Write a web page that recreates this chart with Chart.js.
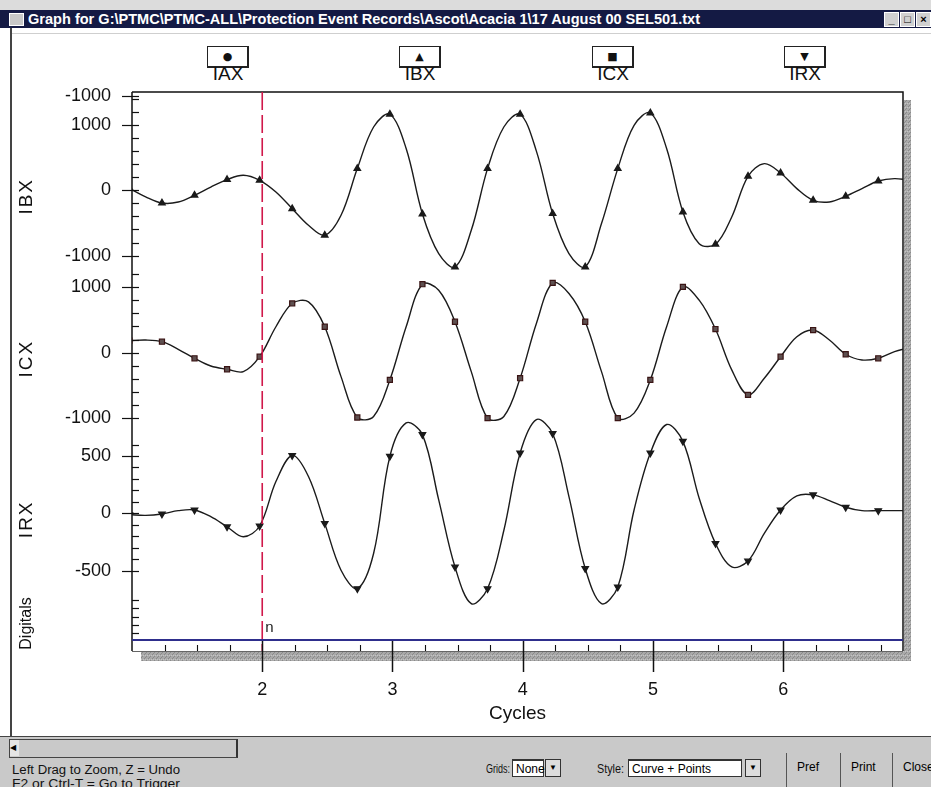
<!DOCTYPE html>
<html>
<head>
<meta charset="utf-8">
<script src="https://cdn.jsdelivr.net/npm/chart.js@4.4.1/dist/chart.umd.min.js"></script>
<style>
  html,body{margin:0;padding:0;}
  body{width:931px;height:787px;position:relative;overflow:hidden;background:#fff;font-family:"Liberation Sans",Arial,sans-serif;}
  #topstrip{position:absolute;left:0;top:0;width:931px;height:10px;background:#dcdcdc;}
  #titlebar{position:absolute;left:0;top:10px;width:931px;height:18px;background:#141a44;color:#fff;}
  #titlebar .txt{position:absolute;left:28px;top:1px;font:bold 14px "Liberation Sans",Arial,sans-serif;white-space:nowrap;transform-origin:0 0;}
  #titlebar .ico{position:absolute;left:9px;top:3px;width:13px;height:11px;background:#c8c8c8;border:1px solid #fff;}
  .wbtn{position:absolute;top:2px;width:13px;height:13px;background:#d0d0d0;border:1px solid #fff;color:#000;font:bold 11px Arial;text-align:center;line-height:12px;}
  #sepline{position:absolute;left:12px;top:33px;width:919px;height:1px;background:#cfcfcf;}
  #leftborder{position:absolute;left:10px;top:28px;width:2px;height:709px;background:#444;}
  .lbox{position:absolute;top:46px;width:39px;height:19px;border:1px solid #222;border-right:2px solid #222;border-bottom:2px solid #222;background:#fff;text-align:center;font:11px "DejaVu Sans",sans-serif;line-height:19px;color:#111;}
  .llab{position:absolute;top:63px;width:60px;text-align:center;font:19px "Liberation Sans",Arial,sans-serif;color:#111;}
  #wrap{position:absolute;left:12px;top:30px;width:919px;height:705px;}
  #bottom{position:absolute;left:0;top:736px;width:931px;height:51px;background:#c9c9c9;border-top:1px solid #444;}
  #bottom .t{position:absolute;font:12px "Liberation Sans",Arial,sans-serif;color:#111;white-space:nowrap;transform-origin:0 0;}
  .sel{position:absolute;top:22px;height:18px;background:#fff;border:1px solid #333;border-top:2px solid #333;font:12px "Liberation Sans",Arial;line-height:16px;padding-left:3px;box-sizing:border-box;white-space:nowrap;}
  .arr{position:absolute;top:22px;width:16px;height:18px;background:#ddd;border:1px solid #333;box-sizing:border-box;font:8px Arial;text-align:center;line-height:16px;}
  .btn{position:absolute;top:16px;height:35px;border-left:1px solid #555;font:12px "Liberation Sans",Arial;line-height:28px;padding-left:10px;box-sizing:border-box;}
</style>
</head>
<body>
<div id="topstrip"></div>
<div id="titlebar">
  <div class="ico"></div>
  <div class="txt" id="ttl">Graph for G:\PTMC\PTMC-ALL\Protection Event Records\Ascot\Acacia 1\17 August 00 SEL501.txt</div>
  <div class="wbtn" style="left:884px;">_</div>
  <div class="wbtn" style="left:900px;">□</div>
  <div class="wbtn" style="left:916px;">×</div>
</div>
<div id="sepline"></div>
<div id="leftborder"></div>
<div id="legend"></div>
<div id="wrap"><canvas id="c" width="919" height="705"></canvas></div>
<div id="bottom">
  <div style="position:absolute;left:9px;top:2px;width:229px;height:19px;border:1px solid #444;border-right:2px solid #333;box-sizing:border-box;"></div>
  <div style="position:absolute;left:10px;top:3px;width:9px;height:16px;background:#e4e4e4;font:8px Arial;line-height:16px;">&#9664;</div>
  <div class="t" id="t1" style="left:12px;top:26px;">Left Drag to Zoom, Z = Undo</div>
  <div class="t" id="t2" style="left:12px;top:40px;">F2 or Ctrl-T = Go to Trigger</div>
  <div class="t" id="gl" style="left:486px;top:25px;">Grids:</div>
  <div class="sel" style="left:512px;width:32px;">None</div>
  <div class="arr" style="left:545px;">&#9660;</div>
  <div class="t" id="sl" style="left:597px;top:25px;">Style:</div>
  <div class="sel" style="left:628px;width:114px;">Curve + Points</div>
  <div class="arr" style="left:745px;">&#9660;</div>
  <div class="btn" style="left:786px;width:42px;">Pref</div>
  <div class="btn" style="left:840px;width:46px;">Print</div>
  <div class="btn" style="left:892px;width:40px;">Close</div>
</div>
<script>
// ---------------- DATA ----------------
const channels = ["IAX", "IBX", "ICX", "IRX"];
const channelSymbols = ["\u25CF", "\u25B2", "\u25A0", "\u25BC"];
const cycles = [0.98, 1.105, 1.23, 1.355, 1.48, 1.605, 1.73, 1.855, 1.98, 2.105, 2.23, 2.355, 2.48, 2.605, 2.73, 2.855,
  2.98, 3.105, 3.23, 3.355, 3.48, 3.605, 3.73, 3.855, 3.98, 4.105, 4.23, 4.355, 4.48, 4.605, 4.73, 4.855,
  4.98, 5.105, 5.23, 5.355, 5.48, 5.605, 5.73, 5.855, 5.98, 6.105, 6.23, 6.355, 6.48, 6.605, 6.73, 6.855, 6.98];
const ibx = [30, -100, -195, -180, -77, 50, 164, 230, 153, -26, -281, -536, -689, -383, 332, 969,
  1164, 640, -363, -970, -1174, -613, 332, 969, 1164, 600, -357, -970, -1174, -510, 332, 995,
  1184, 640, -332, -817, -827, -408, 214, 408, 265, 26, -153, -179, -92, 26, 142, 179, 153];
const icx = [182, 192, 167, 52, -85, -202, -252, -288, -61, 394, 748, 773, 394, -364, -985, -970,
  -414, 394, 1041, 950, 470, -288, -994, -970, -388, 445, 1061, 900, 470, -288, -994, -918,
  -414, 394, 1000, 798, 359, -262, -641, -388, -61, 242, 344, 192, -24, -111, -85, 15, 82];
const irx = [-12, -18, -6, 23, 29, -30, -118, -205, -111, 277, 505, 321, -88, -497, -658, -351,
  497, 789, 687, 117, -468, -789, -658, -150, 526, 818, 696, 146, -482, -789, -644, 29,
  526, 775, 628, 132, -263, -468, -416, -175, 29, 152, 161, 111, 53, 23, 23, 23, 23];
const digitalCycles = [1.0, 6.92];
const digitalLevel = [0, 0];
const xTickLabels = [2, 3, 4, 5, 6];
const iaxTicks = [-1000];
const ibxTicks = [-1000, 0, 1000];
const icxTicks = [-1000, 0, 1000];
const irxTicks = [-500, 0, 500];
const triggerCycle = 2;
const triggerLabel = "n";

// ---------------- TEXT FITTING ----------------
function fitWidth(id, w) {
  const el = document.getElementById(id);
  const cw = el.getBoundingClientRect().width;
  if (cw > 0) el.style.transform = 'scaleX(' + (w / cw) + ')';
}
fitWidth('ttl', 672);
fitWidth('t1', 168);
fitWidth('t2', 168);
fitWidth('gl', 24);
fitWidth('sl', 27);

// ---------------- LEGEND (HTML) ----------------
const legendLeft = [207, 399, 592, 784];
const lg = document.getElementById('legend');
channels.forEach((name, i) => {
  const b = document.createElement('div'); b.className = 'lbox';
  b.style.left = legendLeft[i] + 'px'; b.textContent = channelSymbols[i]; lg.appendChild(b);
  const l = document.createElement('div'); l.className = 'llab';
  l.style.left = (legendLeft[i] - 9) + 'px'; l.textContent = name; lg.appendChild(l);
});

// ---------------- CHART ----------------
const pts = (xs, ys) => xs.map((x, i) => ({x, y: ys[i]}));
const FONT = '"Liberation Sans", Arial, sans-serif';

function fixTicks(values) {
  return function (scale) { scale.ticks = values.map(v => ({value: v})); };
}
function yAxis(min, max, ticks, weight, h) {
  return {
    type: 'linear', position: 'left', stack: 'v', stackWeight: h, weight: weight,
    min: min, max: max, bounds: 'data',
    grid: {display: false, drawTicks: false}, border: {display: false},
    afterBuildTicks: fixTicks(ticks),
    afterFit: s => { s.width = 120; },
    ticks: {autoSkip: false, padding: 21, color: '#111', font: {family: FONT, size: 18},
      callback: v => String(v)}
  };
}

const lineStyle = {borderColor: '#1b1b1b', borderWidth: 1.4, tension: 0.35, fill: false,
  clip: {left: 0, right: 0, top: 80, bottom: 80},
  pointRadius: c => (c.dataIndex % 2 === 0 ? 3.6 : 0), pointHoverRadius: 0};

const minorSteps = {yB: 200, yC: 200, yR: 100};

let shadowPattern = null;
function getPattern(ctx) {
  if (shadowPattern) return shadowPattern;
  const p = document.createElement('canvas'); p.width = 4; p.height = 4;
  const pc = p.getContext('2d');
  pc.fillStyle = '#a9a9a9'; pc.fillRect(0, 0, 4, 4);
  pc.fillStyle = '#8a8a8a'; pc.fillRect(0, 0, 1, 1); pc.fillRect(2, 2, 1, 1); pc.fillRect(1, 3, 1, 1);
  pc.fillStyle = '#c4c4c4'; pc.fillRect(3, 1, 1, 1); pc.fillRect(1, 1, 1, 1);
  shadowPattern = ctx.createPattern(p, 'repeat');
  return shadowPattern;
}

const decor = {
  id: 'decor',
  beforeDatasetsDraw(chart) {
    const {ctx, chartArea: a} = chart;
    ctx.save();
    ctx.fillStyle = getPattern(ctx);
    ctx.fillRect(a.right + 1, a.top + 8, 7, a.bottom - a.top + 2);
    ctx.fillRect(a.left + 9, a.bottom, a.right - a.left - 1, 10);
    ctx.strokeStyle = '#111'; ctx.lineWidth = 1.5;
    ctx.beginPath();
    ctx.moveTo(a.left, a.top); ctx.lineTo(a.right, a.top); ctx.lineTo(a.right, a.bottom);
    ctx.moveTo(a.left, a.top); ctx.lineTo(a.left, a.bottom);
    ctx.stroke();
    ctx.strokeStyle = '#666'; ctx.lineWidth = 1;
    ctx.beginPath(); ctx.moveTo(a.left, a.bottom + 0.5); ctx.lineTo(a.right, a.bottom + 0.5); ctx.stroke();
    ctx.restore();
  },
  afterDatasetsDraw(chart) {
    const {ctx, chartArea: a, scales} = chart;
    ctx.save();
    // trigger line
    const tx = scales.x.getPixelForValue(triggerCycle);
    ctx.strokeStyle = '#d0184a'; ctx.lineWidth = 1.6; ctx.setLineDash([18, 5]);
    ctx.beginPath(); ctx.moveTo(tx, a.top); ctx.lineTo(tx, a.bottom); ctx.stroke();
    ctx.setLineDash([]);
    ctx.fillStyle = '#222'; ctx.font = '15px ' + FONT; ctx.textAlign = 'left'; ctx.textBaseline = 'alphabetic';
    ctx.fillText(triggerLabel, tx + 3, a.bottom - 19);
    // y ticks
    ctx.strokeStyle = '#111'; ctx.lineWidth = 1.2;
    ['yA', 'yB', 'yC', 'yR'].forEach(id => {
      const s = scales[id];
      s.ticks.forEach(t => {
        const y = Math.round(s.getPixelForValue(t.value)) + 0.5;
        ctx.beginPath(); ctx.moveTo(a.left - 10, y); ctx.lineTo(a.left + 7, y); ctx.stroke();
      });
      const st = minorSteps[id];
      if (st) {
        const lo = id === 'yR' ? -500 : Math.ceil(s.min / st) * st;
        const hi = id === 'yR' ? 600 : s.max;
        for (let v = lo; v <= hi; v += st) {
          if (s.ticks.some(t => t.value === v)) continue;
          const y = Math.round(s.getPixelForValue(v)) + 0.5;
          ctx.beginPath(); ctx.moveTo(a.left, y); ctx.lineTo(a.left + 7, y); ctx.stroke();
        }
      }
    });
    const d = scales.yD;
    for (let v = 0.15; v <= 0.95; v += 0.19) {
      const y = Math.round(d.getPixelForValue(v)) + 0.5;
      ctx.beginPath(); ctx.moveTo(a.left, y); ctx.lineTo(a.left + 7, y); ctx.stroke();
    }
    // x ticks
    const xs = scales.x;
    for (let c = 1.25; c < xs.max; c += 0.25) {
      const x = Math.round(xs.getPixelForValue(c)) + 0.5;
      const major = Math.abs(c - Math.round(c)) < 1e-6;
      ctx.lineWidth = major ? 1.5 : 1.1;
      ctx.beginPath();
      if (major) { ctx.moveTo(x, a.bottom - 10); ctx.lineTo(x, a.bottom + 21); }
      else { ctx.moveTo(x, a.bottom - 6); ctx.lineTo(x, a.bottom); }
      ctx.stroke();
    }
    // channel titles at zero lines
    ctx.fillStyle = '#111'; ctx.textAlign = 'center'; ctx.textBaseline = 'middle';
    const titles = [['IBX', 'yB', 0], ['ICX', 'yC', 0], ['IRX', 'yR', 0]];
    titles.forEach(([txt, id, v]) => {
      const y = scales[id].getPixelForValue(v) + 6;
      ctx.save(); ctx.translate(15, y); ctx.rotate(-Math.PI / 2);
      ctx.font = '19px ' + FONT;
      if ('letterSpacing' in ctx) ctx.letterSpacing = '2px';
      ctx.fillText(txt, 0, 0); ctx.restore();
    });
    ctx.save(); ctx.translate(15, (d.top + d.bottom) / 2); ctx.rotate(-Math.PI / 2);
    ctx.font = '16px ' + FONT; ctx.fillText('Digitals', 0, 0); ctx.restore();
    ctx.restore();
  }
};

new Chart(document.getElementById('c'), {
  type: 'line',
  data: {
    datasets: [
      Object.assign({label: 'IBX', yAxisID: 'yB', data: pts(cycles, ibx),
        pointStyle: 'triangle', pointBackgroundColor: '#1a1a1a', pointBorderColor: '#1a1a1a'}, lineStyle),
      Object.assign({label: 'ICX', yAxisID: 'yC', data: pts(cycles, icx),
        pointStyle: 'rect', pointBackgroundColor: '#5e5050', pointBorderColor: '#3a1414', pointBorderWidth: 1.2}, lineStyle),
      Object.assign({label: 'IRX', yAxisID: 'yR', data: pts(cycles, irx),
        pointStyle: 'triangle', rotation: 180, pointBackgroundColor: '#1a1a1a', pointBorderColor: '#1a1a1a'}, lineStyle),
      {label: 'Digitals', yAxisID: 'yD', data: pts(digitalCycles, digitalLevel),
        borderColor: '#2e2e8c', borderWidth: 2, pointRadius: 0, tension: 0}
    ]
  },
  options: {
    responsive: false, animation: false, devicePixelRatio: 1,
    layout: {padding: {top: 62, right: 28, bottom: 0, left: 0}},
    plugins: {legend: {display: false}, tooltip: {enabled: false}},
    scales: {
      x: {
        type: 'linear', min: 1.0, max: 6.92, bounds: 'data',
        grid: {display: false, drawTicks: false}, border: {display: false},
        afterBuildTicks: fixTicks(xTickLabels),
        afterFit: s => { s.height = 84; },
        ticks: {autoSkip: false, padding: 28, color: '#111', font: {family: FONT, size: 18}},
        title: {display: true, text: 'Cycles', color: '#111', font: {family: FONT, size: 19}, padding: {top: 3, bottom: 10}}
      },
      yA: yAxis(-1000, -945, iaxTicks, 5, 3.6),
      yB: yAxis(-1190, 1450, ibxTicks, 4, 172.4),
      yC: yAxis(-1125, 1287, icxTicks, 3, 158.7),
      yR: yAxis(-722, 756, irxTicks, 2, 169.3),
      yD: Object.assign(yAxis(-0.25, 1.0, [], 1, 55), {ticks: {display: false}})
    }
  },
  plugins: [decor]
});
</script>
</body>
</html>
